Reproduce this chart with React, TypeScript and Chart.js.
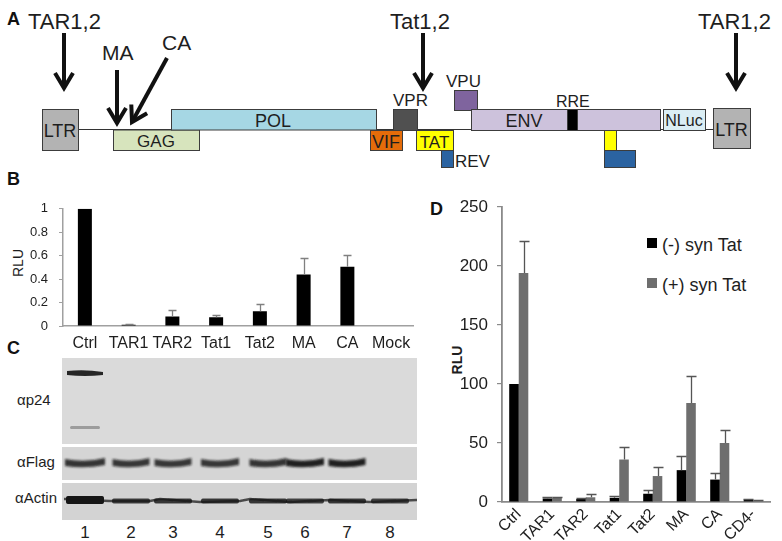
import React, { useEffect, useRef } from 'react';
import { Chart, registerables } from 'chart.js';
Chart.register(...registerables);

const FONT = '"Liberation Sans", Arial, Helvetica, sans-serif';
const TXT = '#1e1e1e';

// ---------- Panel B data ----------
const bCategories = ['Ctrl', 'TAR1', 'TAR2', 'Tat1', 'Tat2', 'MA', 'CA', 'Mock'];
const bValues = [1.0, 0.01, 0.08, 0.075, 0.125, 0.44, 0.505, 0];
const bErrors = [0, 0.006, 0.06, 0.016, 0.06, 0.14, 0.1, 0];
const bTicks = [0, 0.2, 0.4, 0.6, 0.8, 1];

// ---------- Panel D data ----------
const dCategories = ['Ctrl', 'TAR1', 'TAR2', 'Tat1', 'Tat2', 'MA', 'CA', 'CD4-'];
const dSeries = ['(-) syn Tat', '(+) syn Tat'];
const dMinus = [100, 3, 2.5, 3.5, 7, 27, 19, 2];
const dMinusErr = [0, 1, 0.7, 1.5, 3, 12, 6, 0.5];
const dPlus = [194, 3.5, 4, 36, 22, 84, 50, 1.5];
const dPlusErr = [27, 1, 2.5, 11, 7.5, 23, 11, 0.6];
const dTicks = [0, 50, 100, 150, 200, 250];
const dColors = ['#000000', '#6e6e6e'];

// ---------- Panel C (blot) data ----------
const laneNumbers = ['1', '2', '3', '4', '5', '6', '7', '8'];
const p24Signal = [1, 0, 0, 0, 0, 0, 0, 0];
const flagSignal = [0.85, 0.8, 0.8, 0.8, 0.85, 0.95, 0.95, 0];
const actinSignal = [1, 0.8, 0.8, 0.8, 0.8, 0.75, 0.8, 0.75];
const blotRows = ['\u03b1p24', '\u03b1Flag', '\u03b1Actin'];

const errorBarPlugin = {
  id: 'errorBars',
  afterDatasetsDraw(chart: any) {
    const ctx = chart.ctx;
    chart.data.datasets.forEach((ds: any, di: number) => {
      const errs = ds.errors;
      if (!errs) return;
      const meta = chart.getDatasetMeta(di);
      const yScale = chart.scales[meta.yAxisID];
      ctx.save();
      ctx.strokeStyle = ds.errorColor || '#777';
      ctx.lineWidth = ds.errorWidth || 1.3;
      meta.data.forEach((bar: any, i: number) => {
        const e = errs[i];
        if (!e) return;
        const v = ds.data[i];
        const x = Math.round(bar.x) + 0.5;
        const y0 = yScale.getPixelForValue(v);
        const y1 = Math.round(yScale.getPixelForValue(v + e)) + 0.5;
        const cap = ds.errorCap || 4;
        ctx.beginPath();
        ctx.moveTo(x, y0);
        ctx.lineTo(x, y1);
        ctx.moveTo(x - cap, y1);
        ctx.lineTo(x + cap, y1);
        ctx.stroke();
      });
      ctx.restore();
    });
  },
};

function Arrow({ x1, y1, x2, y2 }: { x1: number; y1: number; x2: number; y2: number }) {
  const ang = Math.atan2(y2 - y1, x2 - x1);
  const L = 17.5;
  const a = (31 * Math.PI) / 180;
  const ax1 = x2 - L * Math.cos(ang - a);
  const ay1 = y2 - L * Math.sin(ang - a);
  const ax2 = x2 - L * Math.cos(ang + a);
  const ay2 = y2 - L * Math.sin(ang + a);
  const sx = x2 - 2 * Math.cos(ang);
  const sy = y2 - 2 * Math.sin(ang);
  return (
    <g stroke="#111" strokeWidth={4} fill="none">
      <line x1={x1} y1={y1} x2={sx} y2={sy} />
      <polyline points={`${ax1},${ay1} ${x2},${y2} ${ax2},${ay2}`} strokeLinejoin="miter" strokeMiterlimit={10} />
    </g>
  );
}

type BoxDef = { x: number; y: number; w: number; h: number; fill: string; label?: string; tx?: number; ty?: number; fs?: number };
const genomeBoxes: BoxDef[] = [
  { x: 42, y: 109, w: 36, h: 41, fill: '#b3b3b3', label: 'LTR', tx: 60, ty: 137, fs: 18 },
  { x: 113, y: 129.5, w: 86, h: 20.5, fill: '#d7e4bd', label: 'GAG', tx: 156, ty: 147, fs: 17 },
  { x: 171, y: 109, w: 205, h: 20.5, fill: '#a6d7e4', label: 'POL', tx: 273, ty: 127, fs: 18 },
  { x: 370, y: 130, w: 32, h: 20, fill: '#e46c0a', label: 'VIF', tx: 386, ty: 148, fs: 18 },
  { x: 393, y: 109, w: 24, h: 21, fill: '#505050' },
  { x: 416, y: 130, w: 37, h: 20, fill: '#ffff00', label: 'TAT', tx: 434.5, ty: 148, fs: 17 },
  { x: 441, y: 150, w: 12, h: 17, fill: '#2b63a1' },
  { x: 454, y: 90, w: 23, h: 20, fill: '#7f649e' },
  { x: 471, y: 109, w: 189, h: 21, fill: '#cdc2dc', label: 'ENV', tx: 524, ty: 127, fs: 18 },
  { x: 567, y: 109, w: 10, h: 21, fill: '#000000' },
  { x: 604, y: 130, w: 12, h: 20, fill: '#ffff00' },
  { x: 604, y: 150, w: 31, h: 17, fill: '#2b63a1' },
  { x: 663, y: 109, w: 42, h: 21, fill: '#dbeef4', label: 'NLuc', tx: 684, ty: 126, fs: 16 },
  { x: 713, y: 108, w: 37, h: 40, fill: '#b3b3b3', label: 'LTR', tx: 731.5, ty: 136, fs: 18 },
];

const laneX = [85, 131, 173, 220, 268, 305, 347, 390];
const flagW = [40, 37, 37, 38, 37, 38, 37, 36];

export default function App() {
  const bRef = useRef<HTMLCanvasElement>(null);
  const dRef = useRef<HTMLCanvasElement>(null);

  useEffect(() => {
    const b = new Chart(bRef.current as HTMLCanvasElement, {
      type: 'bar',
      data: {
        labels: bCategories,
        datasets: [
          {
            data: bValues,
            backgroundColor: '#000000',
            barThickness: 14,
            inflateAmount: 0,
            errors: bErrors,
            errorColor: '#808080',
            errorCap: 4,
          } as any,
        ],
      },
      options: {
        animation: false,
        responsive: false,
        maintainAspectRatio: false,
        layout: { padding: { top: 11, right: 7, left: 0, bottom: 0 } },
        plugins: { legend: { display: false }, tooltip: { enabled: false } },
        scales: {
          x: {
            grid: { display: false, drawTicks: false },
            border: { display: true, color: '#a0a0a0', width: 1.5 },
            ticks: { color: TXT, font: { family: FONT, size: 16 }, padding: 8, maxRotation: 0, autoSkip: false },
            afterFit: (s: any) => { s.height = 34; },
          },
          y: {
            min: 0,
            max: 1,
            afterBuildTicks: (s: any) => { s.ticks = bTicks.map((v) => ({ value: v })); },
            grid: { drawOnChartArea: false, drawTicks: true, tickLength: 4, color: '#a0a0a0', lineWidth: 1 },
            border: { display: true, color: '#a0a0a0', width: 1.5 },
            ticks: {
              color: TXT,
              font: { family: FONT, size: 13 },
              padding: 11,
              callback: (v: any) => String(Number(Number(v).toFixed(2))),
            },
            afterFit: (s: any) => { s.width = 63; },
          },
        },
      } as any,
      plugins: [errorBarPlugin],
    });

    const d = new Chart(dRef.current as HTMLCanvasElement, {
      type: 'bar',
      data: {
        labels: dCategories,
        datasets: [
          { label: dSeries[0], data: dMinus, backgroundColor: dColors[0], inflateAmount: 0, errors: dMinusErr, errorColor: '#555', errorCap: 5 } as any,
          { label: dSeries[1], data: dPlus, backgroundColor: dColors[1], inflateAmount: 0, errors: dPlusErr, errorColor: '#555', errorCap: 5 } as any,
        ],
      },
      options: {
        animation: false,
        responsive: false,
        maintainAspectRatio: false,
        datasets: { bar: { categoryPercentage: 0.57, barPercentage: 1 } },
        layout: { padding: { top: 27, right: 12, left: 0, bottom: 0 } },
        plugins: { legend: { display: false }, tooltip: { enabled: false } },
        scales: {
          x: {
            grid: { display: false, drawTicks: false },
            border: { display: true, color: '#8a8a8a', width: 1.8 },
            ticks: { color: TXT, font: { family: FONT, size: 16 }, padding: 3, minRotation: 45, maxRotation: 45, autoSkip: false },
            afterFit: (s: any) => { s.height = 39; },
          },
          y: {
            min: 0,
            max: 250,
            afterBuildTicks: (s: any) => { s.ticks = dTicks.map((v) => ({ value: v })); },
            grid: { drawOnChartArea: false, drawTicks: true, tickLength: 5, color: '#8a8a8a', lineWidth: 1.2 },
            border: { display: true, color: '#8a8a8a', width: 1.8 },
            ticks: { color: TXT, font: { family: FONT, size: 17 }, padding: 9 },
            afterFit: (s: any) => { s.width = 82; },
          },
        },
      } as any,
      plugins: [errorBarPlugin],
    });

    return () => {
      b.destroy();
      d.destroy();
    };
  }, []);

  return (
    <div style={{ position: 'fixed', left: 0, top: 0, width: 782, height: 541, background: '#fff', overflow: 'hidden', fontFamily: FONT }}>
      <svg width={782} height={541} style={{ position: 'absolute', left: 0, top: 0 }}>
        <defs>
          <filter id="blur1" x="-20%" y="-100%" width="140%" height="300%">
            <feGaussianBlur stdDeviation="1.1" />
          </filter>
          <filter id="blur2" x="-20%" y="-100%" width="140%" height="300%">
            <feGaussianBlur stdDeviation="0.7" />
          </filter>
        </defs>
        {/* Panel A */}
        <text x={7} y={25} fontFamily={FONT} fontWeight={700} fontSize={18} fill="#111">A</text>
        <text x={28} y={29} fontFamily={FONT} fontSize={22} fill={TXT}>TAR1,2</text>
        <text x={102} y={60} fontFamily={FONT} fontSize={21} fill={TXT}>MA</text>
        <text x={162} y={50} fontFamily={FONT} fontSize={21} fill={TXT}>CA</text>
        <text x={390} y={29} fontFamily={FONT} fontSize={22} fill={TXT}>Tat1,2</text>
        <text x={698} y={29} fontFamily={FONT} fontSize={22} fill={TXT}>TAR1,2</text>
        <Arrow x1={64} y1={33} x2={64} y2={88} />
        <Arrow x1={117} y1={70} x2={117} y2={123} />
        <Arrow x1={167} y1={58} x2={132} y2={122} />
        <Arrow x1={423} y1={33} x2={423} y2={88} />
        <Arrow x1={736} y1={33} x2={736} y2={88} />
        <line x1={78} y1={129.5} x2={713} y2={129.5} stroke="#333" strokeWidth={1} />
        {genomeBoxes.map((bx, i) => (
          <g key={i}>
            <rect x={bx.x + 0.5} y={bx.y + 0.5} width={bx.w} height={bx.h} fill={bx.fill} stroke="#3c3c3c" strokeWidth={1} />
            {bx.label && (
              <text x={bx.tx} y={bx.ty} textAnchor="middle" fontFamily={FONT} fontSize={bx.fs} fill={TXT}>{bx.label}</text>
            )}
          </g>
        ))}
        <text x={393} y={106} fontFamily={FONT} fontSize={17} fill={TXT}>VPR</text>
        <text x={446} y={87} fontFamily={FONT} fontSize={17} fill={TXT}>VPU</text>
        <text x={455} y={167} fontFamily={FONT} fontSize={17} fill={TXT}>REV</text>
        <text x={556} y={107} fontFamily={FONT} fontSize={16} fill={TXT}>RRE</text>

        {/* Panel B/C letters */}
        <text x={7} y={185} fontFamily={FONT} fontWeight={700} fontSize={18} fill="#111">B</text>
        <text x={7} y={354} fontFamily={FONT} fontWeight={700} fontSize={18} fill="#111">C</text>
        <text x={0} y={0} transform="translate(23,263) rotate(-90)" textAnchor="middle" fontFamily={FONT} fontSize={14} fill={TXT}>RLU</text>

        {/* Panel C blot */}
        <rect x={62} y={358} width={355} height={86} fill="#dadada" />
        <rect x={62} y={447} width={355} height={33} fill="#d5d5d5" />
        <rect x={62} y={483} width={355} height={37} fill="#d3d3d3" />
        {p24Signal.map((s, i) =>
          s > 0 ? (
            <g key={'p' + i} filter="url(#blur2)">
              <path
                d={`M ${laneX[i] - 18} ${371} Q ${laneX[i]} ${369} ${laneX[i] + 18} ${372} L ${laneX[i] + 18} ${375} Q ${laneX[i]} ${377} ${laneX[i] - 18} ${375} Z`}
                fill={`rgba(40,40,40,${s})`}
              />
              <rect x={laneX[i] - 15} y={426} width={30} height={3} rx={1.5} fill={`rgba(60,60,60,${0.4 * s})`} />
            </g>
          ) : null
        )}
        {flagSignal.map((s, i) =>
          s > 0 ? (
            <path
              key={'f' + i}
              filter="url(#blur1)"
              d={`M ${laneX[i] - flagW[i] / 2} ${459} Q ${laneX[i]} ${463} ${laneX[i] + flagW[i] / 2} ${458} L ${laneX[i] + flagW[i] / 2} ${465} Q ${laneX[i]} ${469} ${laneX[i] - flagW[i] / 2} ${466} Z`}
              fill={`rgba(20,20,20,${s})`}
            />
          ) : null
        )}
        <g filter="url(#blur2)">
          <path d="M 64 499 L 110 501 L 150 501 L 160 499 L 200 502 L 240 501 L 250 499 L 290 502 L 330 500 L 370 502 L 417 500" stroke="rgba(30,30,30,0.75)" strokeWidth={2.5} fill="none" />
          {actinSignal.map((s, i) => (
            <rect key={'a' + i} x={laneX[i] - 19} y={i === 0 ? 496 : 498.5} width={38} height={i === 0 ? 8 : 5} rx={2} fill={`rgba(20,20,20,${s})`} />
          ))}
        </g>
        {blotRows.map((r, i) => (
          <text key={r} x={i === 2 ? 15 : 17} y={[405, 467, 503][i]} fontFamily={FONT} fontSize={15} fill={TXT}>{r}</text>
        ))}
        {laneNumbers.map((n, i) => (
          <text key={'n' + i} x={laneX[i]} y={538} textAnchor="middle" fontFamily={FONT} fontSize={17} fill={TXT}>{n}</text>
        ))}

        {/* Panel D labels */}
        <text x={430} y={215} fontFamily={FONT} fontWeight={700} fontSize={18} fill="#111">D</text>
        <text x={0} y={0} transform="translate(462,360) rotate(-90)" textAnchor="middle" fontFamily={FONT} fontWeight={700} fontSize={14} fill={TXT}>RLU</text>
        {dSeries.map((s, i) => (
          <g key={'lg' + i}>
            <rect x={647} y={[238, 278][i]} width={10} height={10} fill={dColors[i]} />
            <text x={662} y={[251, 291][i]} fontFamily={FONT} fontSize={18} fill={TXT}>{s}</text>
          </g>
        ))}
      </svg>
      <canvas ref={bRef} width={420} height={170} style={{ position: 'absolute', left: 0, top: 190 }} />
      <canvas ref={dRef} width={362} height={361} style={{ position: 'absolute', left: 420, top: 180 }} />
    </div>
  );
}
